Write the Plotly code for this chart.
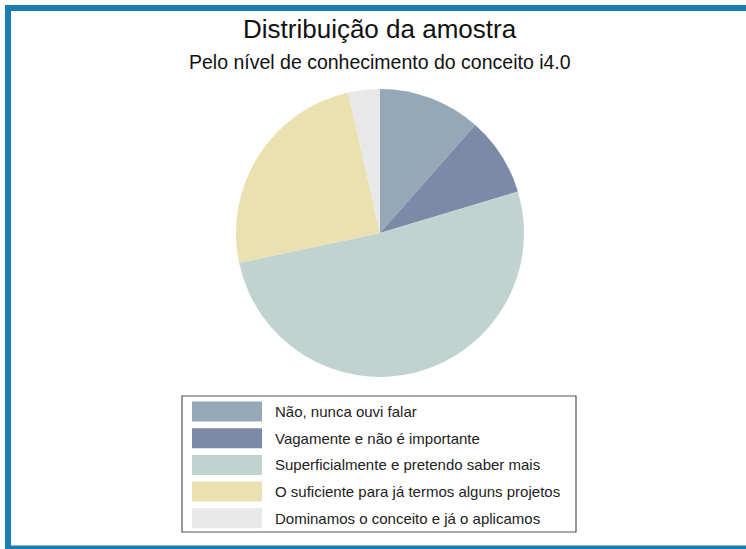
import plotly.graph_objects as go

W, H = 746, 549

labels = ["Não, nunca ouvi falar",
          "Vagamente e não é importante",
          "Superficialmente e pretendo saber mais",
          "O suficiente para já termos alguns projetos",
          "Dominamos o conceito e já o aplicamos"]
counts = [13, 10, 58, 28, 4]
colors = ["#94A8B8", "#7B8AA6", "#C0D3D1", "#EBE0B0", "#E8E8E8"]

title = "Distribuição da amostra"
subtitle = "Pelo nível de conhecimento do conceito i4.0"

def px(x):
    return x / W

def py(y):
    return 1 - y / H

fig = go.Figure(go.Pie(
    labels=labels,
    values=counts,
    marker=dict(colors=colors, line=dict(width=0)),
    sort=False,
    direction="clockwise",
    rotation=0,
    textinfo="none",
    hoverinfo="label+value+percent",
    showlegend=False,
    domain=dict(x=[px(236), px(524)], y=[py(377), py(89)]),
))

shapes = []
annotations = []

# blue frame: an open path, top, left and bottom sides only
blue = "#1B7DB1"
frame = "M {r},{t} L {l},{t} L {l},{b} L {r},{b}".format(
    r=px(760), l=px(8), t=py(8), b=py(548.5))
shapes.append(dict(type="path", xref="paper", yref="paper", path=frame,
                   line=dict(color=blue, width=6), layer="above"))

# legend box drawn by hand, so the swatches can be wide
shapes.append(dict(type="rect", xref="paper", yref="paper", x0=px(182), x1=px(576),
                   y0=py(532), y1=py(396), line=dict(color="#555555", width=1.2),
                   fillcolor="rgba(0,0,0,0)"))
for i, (lab, col) in enumerate(zip(labels, colors)):
    yc = 411.5 + i * 26.7
    shapes.append(dict(type="rect", xref="paper", yref="paper", x0=px(192), x1=px(262),
                       y0=py(yc + 10), y1=py(yc - 10), fillcolor=col, line=dict(width=0)))
    annotations.append(dict(text=lab, x=px(273), y=py(yc), xref="paper", yref="paper",
                            xanchor="left", yanchor="middle", showarrow=False,
                            font=dict(size=15, color="#222222", family="Liberation Sans, Arial")))

annotations.append(dict(text=title, x=px(380), y=py(29), xref="paper", yref="paper",
                        xanchor="center", yanchor="middle", showarrow=False,
                        font=dict(size=26, color="#111111", family="Liberation Sans, Arial")))
annotations.append(dict(text=subtitle, x=px(380), y=py(62), xref="paper", yref="paper",
                        xanchor="center", yanchor="middle", showarrow=False,
                        font=dict(size=19.5, color="#111111", family="Liberation Sans, Arial")))

fig.update_layout(
    width=W, height=H,
    margin=dict(l=0, r=0, t=0, b=0),
    paper_bgcolor="white",
    plot_bgcolor="white",
    shapes=shapes,
    annotations=annotations,
)

# no page margin or scrollbars, so the figure sits at the window's corner
page_css = ("document.documentElement.style.overflow='hidden';"
            "document.body.style.margin='0';document.body.style.overflow='hidden';")
fig.write_html("out.html", config={"displayModeBar": False}, post_script=page_css)
